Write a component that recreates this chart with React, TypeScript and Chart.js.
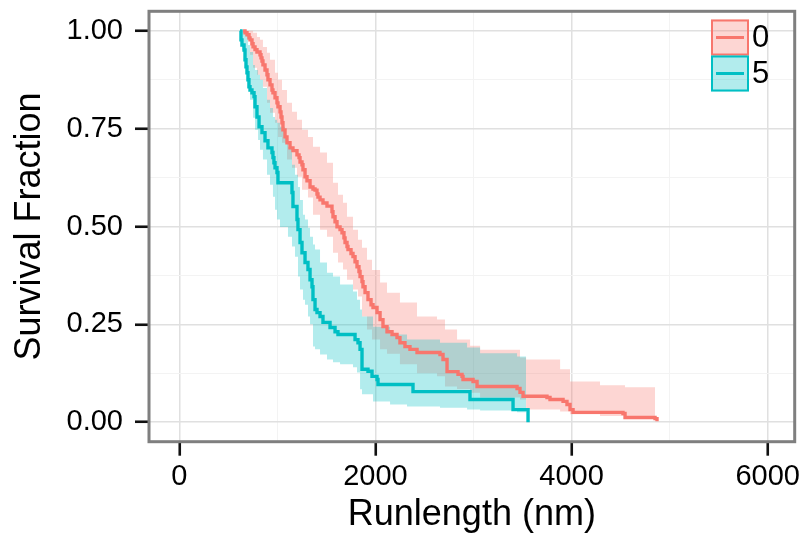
import React, { useEffect, useRef } from 'react';
import { Chart, registerables } from 'chart.js';

Chart.register(...registerables);

// ---- data ----
const seriesNames = ['0', '5'];

const redTimes = [650, 670, 690, 711, 721, 741, 752, 772, 792, 823, 833, 843, 853, 874, 894, 904, 925, 945, 955, 976, 996, 1006, 1027, 1037, 1047, 1057, 1078, 1098, 1129, 1159, 1200, 1221, 1231, 1251, 1261, 1282, 1302, 1333, 1363, 1384, 1404, 1414, 1435, 1465, 1506, 1557, 1567, 1588, 1608, 1639, 1659, 1679, 1690, 1710, 1720, 1751, 1771, 1792, 1812, 1832, 1843, 1863, 1873, 1894, 1924, 1955, 1975, 2016, 2047, 2077, 2118, 2169, 2220, 2250, 2301, 2352, 2424, 2658, 2689, 2730, 2842, 2883, 2893, 2995, 3036, 3444, 3474, 3505, 3749, 3780, 3913, 3953, 3984, 4015, 4524, 4545, 4851, 4871];
const redSurv = [1.0, 0.995, 0.99, 0.982, 0.977, 0.967, 0.959, 0.952, 0.946, 0.939, 0.931, 0.923, 0.913, 0.9, 0.888, 0.875, 0.862, 0.849, 0.842, 0.829, 0.816, 0.806, 0.793, 0.78, 0.765, 0.747, 0.729, 0.714, 0.701, 0.694, 0.683, 0.676, 0.665, 0.658, 0.645, 0.627, 0.617, 0.601, 0.596, 0.593, 0.583, 0.575, 0.568, 0.56, 0.552, 0.538, 0.525, 0.512, 0.499, 0.492, 0.484, 0.471, 0.459, 0.449, 0.441, 0.431, 0.423, 0.41, 0.397, 0.385, 0.372, 0.359, 0.346, 0.331, 0.313, 0.3, 0.293, 0.28, 0.262, 0.244, 0.231, 0.224, 0.216, 0.203, 0.193, 0.186, 0.178, 0.173, 0.16, 0.129, 0.122, 0.117, 0.109, 0.104, 0.091, 0.086, 0.076, 0.066, 0.063, 0.058, 0.053, 0.045, 0.032, 0.025, 0.022, 0.012, 0.009, 0.002];

const redBandTimes = [650, 690, 721, 752, 792, 823, 853, 894, 925, 976, 1006, 1047, 1098, 1149, 1200, 1251, 1312, 1363, 1435, 1506, 1567, 1618, 1669, 1710, 1771, 1822, 1863, 1914, 1965, 2047, 2118, 2250, 2424, 2628, 2709, 2832, 2965, 3067, 3474, 3536, 3883, 3984, 4290, 4545, 4851];
const redUpper = [1.0, 1.0, 1.0, 0.995, 0.984, 0.977, 0.959, 0.944, 0.926, 0.893, 0.875, 0.849, 0.816, 0.793, 0.773, 0.747, 0.729, 0.704, 0.689, 0.663, 0.612, 0.581, 0.561, 0.525, 0.492, 0.466, 0.446, 0.415, 0.389, 0.357, 0.331, 0.306, 0.27, 0.262, 0.237, 0.211, 0.195, 0.185, 0.165, 0.16, 0.135, 0.104, 0.094, 0.089, 0.078];
const redLower = [0.995, 0.977, 0.939, 0.906, 0.888, 0.875, 0.857, 0.816, 0.791, 0.765, 0.729, 0.714, 0.671, 0.65, 0.627, 0.594, 0.574, 0.53, 0.492, 0.474, 0.433, 0.408, 0.39, 0.364, 0.339, 0.321, 0.27, 0.237, 0.211, 0.186, 0.175, 0.148, 0.125, 0.117, 0.091, 0.085, 0.075, 0.063, 0.058, 0.032, 0.027, 0.02, 0.016, 0.012, 0.007];

const tealTimes = [619, 629, 639, 660, 670, 680, 690, 700, 710, 721, 741, 762, 772, 792, 813, 843, 874, 904, 945, 955, 965, 976, 996, 1006, 1149, 1159, 1200, 1210, 1231, 1251, 1282, 1312, 1333, 1353, 1363, 1384, 1404, 1435, 1465, 1537, 1588, 1618, 1792, 1822, 1843, 1863, 1924, 1965, 2016, 2026, 2383, 2964, 3403, 3556];
const tealSurv = [1.0, 0.977, 0.964, 0.951, 0.926, 0.908, 0.893, 0.875, 0.857, 0.849, 0.842, 0.832, 0.806, 0.78, 0.755, 0.74, 0.719, 0.701, 0.689, 0.676, 0.663, 0.65, 0.638, 0.612, 0.587, 0.551, 0.518, 0.492, 0.459, 0.433, 0.408, 0.39, 0.364, 0.346, 0.313, 0.288, 0.28, 0.27, 0.255, 0.242, 0.231, 0.224, 0.211, 0.203, 0.186, 0.135, 0.13, 0.117, 0.109, 0.096, 0.078, 0.058, 0.032, 0.0];

const tealBandTimes = [619, 639, 670, 700, 721, 752, 772, 803, 823, 853, 894, 925, 955, 976, 996, 1027, 1078, 1108, 1149, 1180, 1210, 1231, 1261, 1282, 1312, 1333, 1363, 1384, 1435, 1506, 1567, 1639, 1771, 1812, 1843, 1863, 1975, 2149, 2322, 2658, 2934, 3067, 3444, 3536];
const tealUpper = [1.0, 1.0, 0.995, 0.964, 0.946, 0.913, 0.9, 0.888, 0.875, 0.854, 0.824, 0.803, 0.78, 0.773, 0.765, 0.755, 0.729, 0.704, 0.658, 0.632, 0.601, 0.568, 0.53, 0.518, 0.497, 0.474, 0.454, 0.441, 0.408, 0.382, 0.372, 0.352, 0.334, 0.313, 0.288, 0.27, 0.244, 0.224, 0.211, 0.203, 0.191, 0.176, 0.168, 0.165];
const tealLower = [0.99, 0.952, 0.906, 0.857, 0.824, 0.778, 0.747, 0.721, 0.696, 0.671, 0.632, 0.607, 0.576, 0.543, 0.518, 0.499, 0.499, 0.474, 0.449, 0.423, 0.372, 0.339, 0.313, 0.3, 0.27, 0.25, 0.193, 0.186, 0.173, 0.16, 0.153, 0.148, 0.14, 0.127, 0.084, 0.071, 0.053, 0.045, 0.04, 0.037, 0.032, 0.03, 0.025, 0.025];

const xTickValues = [0, 2000, 4000, 6000];
const xTickLabels = ['0', '2000', '4000', '6000'];
const xMinorValues = [1000, 3000, 5000];
const yTickValues = [0, 0.25, 0.5, 0.75, 1.0];
const yTickLabels = ['0.00', '0.25', '0.50', '0.75', '1.00'];
const yMinorValues = [0.125, 0.375, 0.625, 0.875];

const xTitle = 'Runlength (nm)';
const yTitle = 'Survival Fraction';

// ---- style ----
const lineColors = ['#F8766D', '#00BFC4'];
const ribbonColors = ['rgba(248,118,109,0.3)', 'rgba(0,191,196,0.3)'];
const FONT = '"Liberation Sans", Arial, Helvetica, sans-serif';

const W = 799;
const H = 533;
const AREA = { left: 149, right: 794.7, top: 11.3, bottom: 441.7 };

function pts(xs: number[], ys: number[]) {
  return xs.map((x, i) => ({ x, y: ys[i] }));
}

const framePlugin = {
  id: 'frameLegend',
  afterDraw(chart: any) {
    const { ctx, chartArea } = chart;
    ctx.save();
    // panel border
    ctx.strokeStyle = '#7f7f7f';
    ctx.lineWidth = 3;
    ctx.strokeRect(chartArea.left, chartArea.top, chartArea.right - chartArea.left, chartArea.bottom - chartArea.top);
    // legend
    const bx = 711;
    const bw = 38;
    const bh = 36;
    let by = 19.5;
    seriesNames.forEach((name, i) => {
      ctx.fillStyle = ribbonColors[i];
      ctx.fillRect(bx, by, bw, bh);
      ctx.strokeStyle = lineColors[i];
      ctx.lineWidth = 2;
      ctx.strokeRect(bx + 1, by + 1, bw - 2, bh - 2);
      ctx.beginPath();
      ctx.moveTo(bx + 5, by + bh / 2);
      ctx.lineTo(bx + bw - 5, by + bh / 2);
      ctx.lineWidth = 3;
      ctx.stroke();
      ctx.fillStyle = '#000';
      ctx.font = `31px ${FONT}`;
      ctx.textBaseline = 'middle';
      ctx.textAlign = 'left';
      ctx.fillText(name, bx + bw + 3, by + bh / 2 + 1);
      by += bh;
    });
    ctx.restore();
  },
};

export default function App() {
  const ref = useRef<HTMLCanvasElement>(null);

  useEffect(() => {
    const canvas = ref.current;
    if (!canvas) return;
    const groups = [
      { t: redTimes, s: redSurv, bt: redBandTimes, up: redUpper, lo: redLower },
      { t: tealTimes, s: tealSurv, bt: tealBandTimes, up: tealUpper, lo: tealLower },
    ];
    const datasets: any[] = [];
    groups.forEach((g, i) => {
      datasets.push({
        label: seriesNames[i] + ' upper',
        data: pts(g.bt, g.up),
        stepped: 'before',
        borderColor: 'rgba(0,0,0,0)',
        borderWidth: 0,
        pointRadius: 0,
        backgroundColor: ribbonColors[i],
        fill: '+1',
        order: 20 - i,
      });
      datasets.push({
        label: seriesNames[i] + ' lower',
        data: pts(g.bt, g.lo),
        stepped: 'before',
        borderColor: 'rgba(0,0,0,0)',
        borderWidth: 0,
        pointRadius: 0,
        fill: false,
        order: 20 - i,
      });
    });
    groups.forEach((g, i) => {
      datasets.push({
        label: seriesNames[i],
        data: pts(g.t, g.s),
        stepped: 'before',
        borderColor: lineColors[i],
        borderWidth: 3.4,
        pointRadius: 0,
        fill: false,
        order: 5 - i,
      });
    });

    const xMajor = (v: number) => xTickValues.indexOf(v) >= 0;
    const yMajor = (v: number) => yTickValues.some((t) => Math.abs(t - v) < 1e-9);

    const chart = new Chart(canvas, {
      type: 'line',
      data: { datasets },
      options: {
        animation: false,
        responsive: false,
        devicePixelRatio: 1,
        layout: { padding: { left: 0, top: AREA.top, right: W - AREA.right, bottom: 0 } },
        plugins: { legend: { display: false }, tooltip: { enabled: false } },
        scales: {
          x: {
            type: 'linear',
            min: -309,
            max: 6275,
            afterBuildTicks: (s: any) => {
              s.ticks = [...xTickValues, ...xMinorValues].sort((a, b) => a - b).map((v) => ({ value: v }));
            },
            afterFit: (s: any) => {
              s.height = H - AREA.bottom;
              s.paddingLeft = 0;
              s.paddingRight = 0;
              s.paddingTop = 0;
              s.paddingBottom = 0;
            },
            ticks: {
              autoSkip: false,
              maxRotation: 0,
              padding: 4,
              color: '#000',
              font: { family: FONT, size: 29 },
              callback: (v: any) => {
                const i = xTickValues.indexOf(Number(v));
                return i >= 0 ? xTickLabels[i] : '';
              },
            },
            grid: {
              color: (c: any) => (c.tick && xMajor(c.tick.value) ? '#e0e0e0' : '#f3f3f3'),
              lineWidth: (c: any) => (c.tick && xMajor(c.tick.value) ? 1.5 : 1),
              tickColor: (c: any) => (c.tick && xMajor(c.tick.value) ? '#111' : 'rgba(0,0,0,0)'),
              tickLength: 14,
              tickWidth: 2.6,
            },
            border: { display: false },
            title: {
              display: true,
              text: xTitle,
              color: '#000',
              font: { family: FONT, size: 36, lineHeight: 1.0 },
              padding: { top: 0, bottom: 0 },
            },
          },
          y: {
            type: 'linear',
            min: -0.05,
            max: 1.05,
            afterBuildTicks: (s: any) => {
              s.ticks = [...yTickValues, ...yMinorValues].sort((a, b) => a - b).map((v) => ({ value: v }));
            },
            afterFit: (s: any) => {
              s.width = AREA.left;
              s.paddingLeft = 0;
              s.paddingRight = 0;
              s.paddingTop = 0;
              s.paddingBottom = 0;
            },
            ticks: {
              autoSkip: false,
              padding: 12,
              color: '#000',
              font: { family: FONT, size: 29 },
              callback: (v: any) => {
                const i = yTickValues.findIndex((t) => Math.abs(t - Number(v)) < 1e-9);
                return i >= 0 ? yTickLabels[i] : '';
              },
            },
            grid: {
              color: (c: any) => (c.tick && yMajor(c.tick.value) ? '#e0e0e0' : '#f3f3f3'),
              lineWidth: (c: any) => (c.tick && yMajor(c.tick.value) ? 1.5 : 1),
              tickColor: (c: any) => (c.tick && yMajor(c.tick.value) ? '#111' : 'rgba(0,0,0,0)'),
              tickLength: 14,
              tickWidth: 2.6,
            },
            border: { display: false },
            title: {
              display: true,
              text: yTitle,
              color: '#000',
              font: { family: FONT, size: 36 },
              padding: { top: 8, bottom: 0 },
            },
          },
        },
      },
      plugins: [framePlugin],
    } as any);

    return () => chart.destroy();
  }, []);

  return (
    <div style={{ position: 'fixed', left: 0, top: 0, width: W, height: H, background: '#fff' }}>
      <canvas ref={ref} width={W} height={H} style={{ display: 'block', width: W, height: H }} />
    </div>
  );
}
